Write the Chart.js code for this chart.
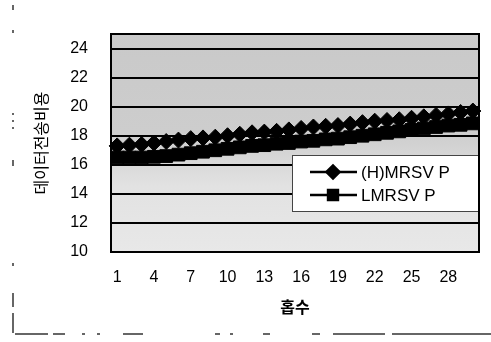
<!DOCTYPE html>
<html><head><meta charset="utf-8">
<script src="https://cdn.jsdelivr.net/npm/chart.js@4.4.0/dist/chart.umd.min.js"></script>
<style>html,body{margin:0;padding:0;background:#fff}#wrap{width:491px;height:342px;position:relative}</style>
</head><body><div id="wrap"><canvas id="c" width="491" height="342"></canvas></div>
<script>
const hops = ['1','2','3','4','5','6','7','8','9','10','11','12','13','14','15','16','17','18','19','20','21','22','23','24','25','26','27','28','29','30'];
const xTickLabels = ['1','4','7','10','13','16','19','22','25','28'];
const yTicks = [10,12,14,16,18,20,22,24];
const seriesNames = ['(H)MRSV P','LMRSV P'];
const hmrsvp = [17.3,17.35,17.4,17.5,17.6,17.7,17.8,17.85,17.9,18.0,18.1,18.2,18.25,18.3,18.4,18.5,18.6,18.65,18.7,18.8,18.9,19.0,19.05,19.1,19.2,19.3,19.4,19.5,19.6,19.7];
const lmrsvp = [16.5,16.5,16.5,16.55,16.6,16.7,16.8,16.9,17.0,17.1,17.2,17.3,17.35,17.45,17.5,17.6,17.65,17.75,17.8,17.9,18.0,18.1,18.2,18.3,18.4,18.5,18.6,18.7,18.75,18.85];

const FAM = "'Liberation Sans', 'Noto Sans CJK KR', Arial, sans-serif";

const plotDeco = {
  id: 'plotDeco',
  beforeDraw(chart) {
    const {ctx, chartArea: a} = chart;
    ctx.save();
    const g = ctx.createLinearGradient(0, a.top, 0, a.bottom);
    g.addColorStop(0, '#c9c9c9');
    g.addColorStop(0.45, '#cdcdcd');
    g.addColorStop(0.7, '#e2e2e2');
    g.addColorStop(1, '#e8e8e8');
    ctx.fillStyle = g;
    ctx.fillRect(a.left, a.top, a.right - a.left, a.bottom - a.top);
    ctx.restore();
  },
  afterDraw(chart) {
    const {ctx, chartArea: a} = chart;
    ctx.save();
    // legend box
    const bx = 292, by = 155, bw = a.right - 292, bh = 57;
    ctx.fillStyle = '#fff';
    ctx.fillRect(bx, by, bw, bh);
    ctx.strokeStyle = '#444';
    ctx.lineWidth = 1;
    ctx.strokeRect(bx + 0.5, by + 0.5, bw - 1, bh - 1);
    const rows = [172, 195];
    const legendRadius = [6.5, 7];
    chart.data.datasets.forEach((ds, i) => {
      const y = rows[i];
      ctx.strokeStyle = '#000';
      ctx.lineWidth = 2.5;
      ctx.beginPath(); ctx.moveTo(310, y); ctx.lineTo(357, y); ctx.stroke();
      ctx.fillStyle = '#000';
      Chart.helpers.drawPoint(ctx, {pointStyle: ds.pointStyle, radius: legendRadius[i], rotation: 0, borderWidth: 1}, 333, y);
      ctx.fill();
      ctx.fillStyle = '#000';
      ctx.font = '17px ' + FAM;
      ctx.textBaseline = 'middle';
      ctx.textAlign = 'left';
      ctx.fillText(ds.label, 361, y + 1);
    });
    // plot border
    ctx.strokeStyle = '#000';
    ctx.lineWidth = 2;
    ctx.strokeRect(a.left, a.top, a.right - a.left, a.bottom - a.top);
    // scanned outer frame fragments
    ctx.strokeStyle = '#333';
    ctx.lineWidth = 1.5;
    const bottomSegs = [[15,48],[53,65],[82,85],[97,100],[123,143],[215,220],[230,233],[263,270],[312,320],[333,385],[392,491]];
    bottomSegs.forEach(s => { ctx.beginPath(); ctx.moveTo(s[0], 334); ctx.lineTo(s[1], 334); ctx.stroke(); });
    const leftSegs = [[5,10],[30,33],[113,115],[120,122],[127,129],[160,166],[263,266],[293,307],[313,333]];
    leftSegs.forEach(s => { ctx.beginPath(); ctx.moveTo(13, s[0]); ctx.lineTo(13, s[1]); ctx.stroke(); });
    ctx.restore();
  }
};

new Chart(document.getElementById('c'), {
  type: 'line',
  data: {
    labels: hops,
    datasets: [
      {label: seriesNames[0], data: hmrsvp, borderColor: '#000', backgroundColor: '#000', borderWidth: 3,
       pointStyle: 'rectRot', pointRadius: 8, pointBackgroundColor: '#000', pointBorderColor: '#000', pointBorderWidth: 1, tension: 0},
      {label: seriesNames[1], data: lmrsvp, borderColor: '#000', backgroundColor: '#000', borderWidth: 3,
       pointStyle: 'rect', pointRadius: 9, pointBackgroundColor: '#000', pointBorderColor: '#000', pointBorderWidth: 1, tension: 0}
    ]
  },
  options: {
    responsive: false,
    animation: false,
    layout: {padding: {top: 34, right: 12, left: 0, bottom: 0}},
    plugins: {legend: {display: false}, tooltip: {enabled: false}},
    scales: {
      x: {
        type: 'category', offset: true,
        grid: {display: false, drawTicks: false}, border: {display: false},
        ticks: {autoSkip: false, maxRotation: 0, minRotation: 0, color: '#000', padding: 16,
          font: {size: 16, family: FAM},
          callback: (v, i) => xTickLabels.includes(hops[i]) ? hops[i] : ''},
        title: {display: true, text: '홉수', color: '#000', font: {size: 16, weight: 'bold', family: FAM}, padding: {top: 0, bottom: 24}},
        afterFit: s => { s.height = 90; }
      },
      y: {
        min: 10, max: 25,
        afterBuildTicks: s => { s.ticks = yTicks.map(v => ({value: v})); },
        grid: {color: '#000', lineWidth: 2, drawTicks: false}, border: {display: false},
        ticks: {color: '#000', padding: 23, font: {size: 16, family: FAM}},
        title: {display: true, text: '데이터전송비용', color: '#000', font: {size: 16, family: FAM}, padding: {top: 33, bottom: 0}},
        afterFit: s => { s.width = 111; }
      }
    }
  },
  plugins: [plotDeco]
});
</script>
</body></html>
